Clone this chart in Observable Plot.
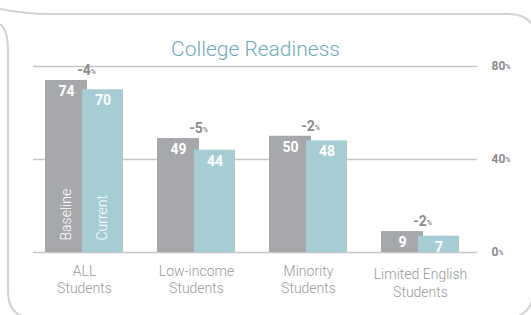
<!DOCTYPE html>
<html><head><meta charset="utf-8">
<script src="https://cdn.jsdelivr.net/npm/d3@7"></script>
<script src="https://cdn.jsdelivr.net/npm/@observablehq/plot@0.6"></script>
<style>
body{margin:0;background:#fff;}
#wrap{position:relative;width:531px;height:315px;overflow:hidden;background:#fff;}
#wrap svg.frame{position:absolute;left:0;top:0;pointer-events:none;}
#wrap > svg.plot{position:absolute;left:0;top:0;}
</style></head><body>
<div id="wrap"></div>
<script>
const title = "College Readiness";
const categories = ["ALL\nStudents", "Low-income\nStudents", "Minority\nStudents", "Limited English\nStudents"];
const baseline = [74, 49, 50, 9];
const current = [70, 44, 48, 7];
const change = [-4, -5, -2, -2];
const seriesNames = ["Baseline", "Current"];
const yTicks = [0, 40, 80];

const GRAY = "#a7a8ab", TEAL = "#a5cdd3";
const rows = categories.map((c, i) => ({category: c, baseline: baseline[i], current: current[i], change: change[i]}));

const chart = Plot.plot({
  width: 531, height: 315,
  marginLeft: 33, marginRight: 54, marginTop: 66, marginBottom: 63,
  style: {fontFamily: "Roboto, sans-serif", background: "transparent"},
  x: {type: "band", domain: categories, range: [45, 459], paddingInner: 0.3036, paddingOuter: 0, axis: null},
  y: {domain: [0, 80], axis: null},
  marks: [
    Plot.ruleY(yTicks, {stroke: "#c6c6c6", strokeWidth: 1.5}),
    Plot.barY(rows, {x: "category", y: "baseline", fill: GRAY, insetRight: 36}),
    Plot.barY(rows, {x: "category", y: "current", fill: TEAL, insetLeft: 37}),
    Plot.text(rows, {x: "category", y: "baseline", text: d => String(d.baseline), dx: -18, dy: 11, fill: "white", fontWeight: "bold", fontSize: 14}),
    Plot.text(rows, {x: "category", y: "current", text: d => String(d.current), dx: 18.5, dy: 11, fill: "white", fontWeight: "bold", fontSize: 14}),
    Plot.text(rows.slice(0, 1), {x: "category", y: () => 0, text: () => seriesNames[0], rotate: -90, textAnchor: "start", dx: -18, dy: -12, fill: "white", fontWeight: 300, fontSize: 14}),
    Plot.text(rows.slice(0, 1), {x: "category", y: () => 0, text: () => seriesNames[1], rotate: -90, textAnchor: "start", dx: 18.5, dy: -12, fill: "white", fontWeight: 300, fontSize: 14}),
    Plot.text(rows, {x: "category", y: "baseline", text: d => `${d.change}%`, dx: 2, dy: -10, fill: "#8c8c8c", fontWeight: "bold", fontSize: 14}),
    Plot.text(yTicks, {y: d => d, text: d => `${d}%`, frameAnchor: "right", textAnchor: "start", dx: 14, fill: "#8c8c8c", fontWeight: "bold", fontSize: 12}),
    Plot.text(rows.slice(0, 3), {x: "category", text: "category", frameAnchor: "bottom", lineAnchor: "top", dy: 12, lineHeight: 1.18, fill: "#9a9a9a", fontWeight: 300, fontSize: 14}),
    Plot.text(rows.slice(3), {x: "category", text: "category", frameAnchor: "bottom", lineAnchor: "top", dy: 13, lineHeight: 1.32, fill: "#9a9a9a", fontWeight: 300, fontSize: 14}),
    Plot.text([title], {text: d => d, frameAnchor: "top", lineAnchor: "middle", dy: -17, fill: "#6faab9", fontWeight: 300, fontSize: 21})
  ]
});
chart.classList.add("plot");

// small "%" signs
d3.select(chart).selectAll("text").each(function() {
  const t = this.textContent;
  if (this.childElementCount === 0 && /^-?\d+%$/.test(t)) {
    const sel = d3.select(this);
    sel.text(t.slice(0, -1));
    sel.append("tspan").attr("font-size", 7).attr("dy", -1).text("%");
  }
});

const wrap = document.getElementById("wrap");
wrap.appendChild(chart);

// decorative rounded frame
const frame = d3.create("svg").attr("class", "frame").attr("width", 531).attr("height", 315);
frame.append("path").attr("d", "M0,9 C15,12 30,14 50,14 L508,14 Q531,14 536,33")
  .attr("fill", "none").attr("stroke", "#d2d2d2").attr("stroke-width", 2);
frame.append("path").attr("d", "M0,24 Q8,30 8,50 L8,291 Q8,318 34,318 L506,318 Q531,318 534,292")
  .attr("fill", "none").attr("stroke", "#d2d2d2").attr("stroke-width", 2);
wrap.appendChild(frame.node());
</script>
</body></html>
